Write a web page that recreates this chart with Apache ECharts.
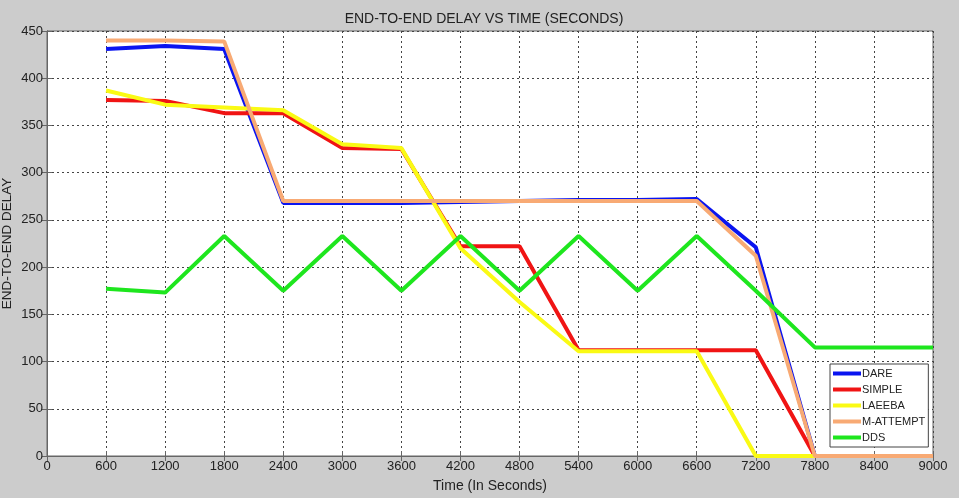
<!DOCTYPE html>
<html>
<head>
<meta charset="utf-8">
<script src="https://cdn.jsdelivr.net/npm/echarts@6/dist/echarts.min.js"></script>
<style>
  html, body { margin: 0; padding: 0; background: #cccccc; }
  #chart { width: 959px; height: 498px; }
</style>
</head>
<body>
<div id="chart"></div>
<script>
const times = [600, 1200, 1800, 2400, 3000, 3600, 4200, 4800, 5400, 6000, 6600, 7200, 7800, 8400, 9000];
const dare = [431, 434, 431, 268, 268, 268, 269, 270, 271, 271, 272, 221, 0, 0, 0];
const simple = [377, 376, 363, 363, 326, 325, 222, 222, 112, 112, 112, 112, 0, 0, 0];
const laeeba = [387, 372, 369, 366, 330, 326, 220, 163, 111, 111, 111, 0, 0, 0, 0];
const mAttempt = [440, 440, 439, 270, 270, 270, 270, 270, 270, 270, 270, 212, 0, 0, 0];
const dds = [177, 173, 233, 175, 233, 175, 233, 175, 233, 175, 233, 175, 115, 115, 115];

const chartDom = document.getElementById('chart');
const myChart = echarts.init(chartDom);

const pairs = vals => vals.map((v, i) => [times[i], v]);
const font = 'Liberation Sans, Arial, sans-serif';

const mk = (name, vals, color) => ({
  name,
  type: 'line',
  data: pairs(vals),
  symbol: 'none',
  xAxisIndex: 0,
  yAxisIndex: 0,
  itemStyle: { color },
  lineStyle: { width: 4, color },
  emphasis: { disabled: true }
});

const gridLine = { show: true, lineStyle: { color: '#444', type: [2, 3], width: 1 } };
const frameTick = { show: true, inside: true, length: 5, lineStyle: { color: '#666' } };

const option = {
  backgroundColor: '#cccccc',
  animation: false,
  title: {
    text: 'END-TO-END DELAY VS TIME (SECONDS)',
    left: 479,
    textAlign: 'center',
    top: 7,
    textStyle: { fontFamily: font, fontSize: 14, fontWeight: 'normal', color: '#222' }
  },
  legend: {
    orient: 'vertical',
    left: 830,
    top: 364,
    padding: [4, 3, 4, 3],
    itemGap: 5,
    itemWidth: 28,
    itemHeight: 4,
    icon: 'rect',
    backgroundColor: '#ffffff',
    borderColor: '#444',
    borderWidth: 1,
    borderRadius: 0,
    textStyle: { fontFamily: font, fontSize: 11, color: '#222', padding: [0, 0, 0, -4] },
    data: ['DARE', 'SIMPLE', 'LAEEBA', 'M-ATTEMPT', 'DDS']
  },
  grid: {
    left: 47,
    right: 26,
    top: 31,
    bottom: 42,
    outerBoundsMode: 'none',
    containLabel: false,
    show: true,
    backgroundColor: '#ffffff',
    borderColor: '#666',
    borderWidth: 1
  },
  xAxis: [
    {
      type: 'value',
      min: 0,
      max: 9000,
      interval: 600,
      name: 'Time (In Seconds)',
      nameLocation: 'middle',
      nameGap: 23,
      nameTextStyle: { fontFamily: font, fontSize: 14, color: '#222' },
      axisLine: { show: true, lineStyle: { color: '#666', width: 1 } },
      axisTick: frameTick,
      axisLabel: { fontFamily: font, fontSize: 13, color: '#222', margin: 4, formatter: v => String(v) },
      splitLine: gridLine
    },
    {
      type: 'value',
      position: 'top',
      min: 0,
      max: 9000,
      interval: 600,
      axisLine: { show: true, lineStyle: { color: '#666', width: 1 } },
      axisTick: frameTick,
      axisLabel: { show: false },
      splitLine: { show: false }
    }
  ],
  yAxis: [
    {
      type: 'value',
      min: 0,
      max: 450,
      interval: 50,
      name: 'END-TO-END DELAY',
      nameLocation: 'middle',
      nameGap: 33,
      nameMoveOverlap: false,
      nameTextStyle: { fontFamily: font, fontSize: 13.5, color: '#222' },
      axisLine: { show: true, lineStyle: { color: '#666', width: 1 } },
      axisTick: frameTick,
      axisLabel: { fontFamily: font, fontSize: 13, color: '#222', margin: 4 },
      splitLine: gridLine
    },
    {
      type: 'value',
      position: 'right',
      min: 0,
      max: 450,
      interval: 50,
      axisLine: { show: true, lineStyle: { color: '#666', width: 1 } },
      axisTick: frameTick,
      axisLabel: { show: false },
      splitLine: { show: false }
    }
  ],
  series: [
    mk('DARE', dare, '#0a14f0'),
    mk('SIMPLE', simple, '#f01414'),
    mk('LAEEBA', laeeba, '#fafa14'),
    mk('M-ATTEMPT', mAttempt, '#f8aa74'),
    mk('DDS', dds, '#1ee61e')
  ]
};

myChart.setOption(option);
</script>
</body>
</html>
